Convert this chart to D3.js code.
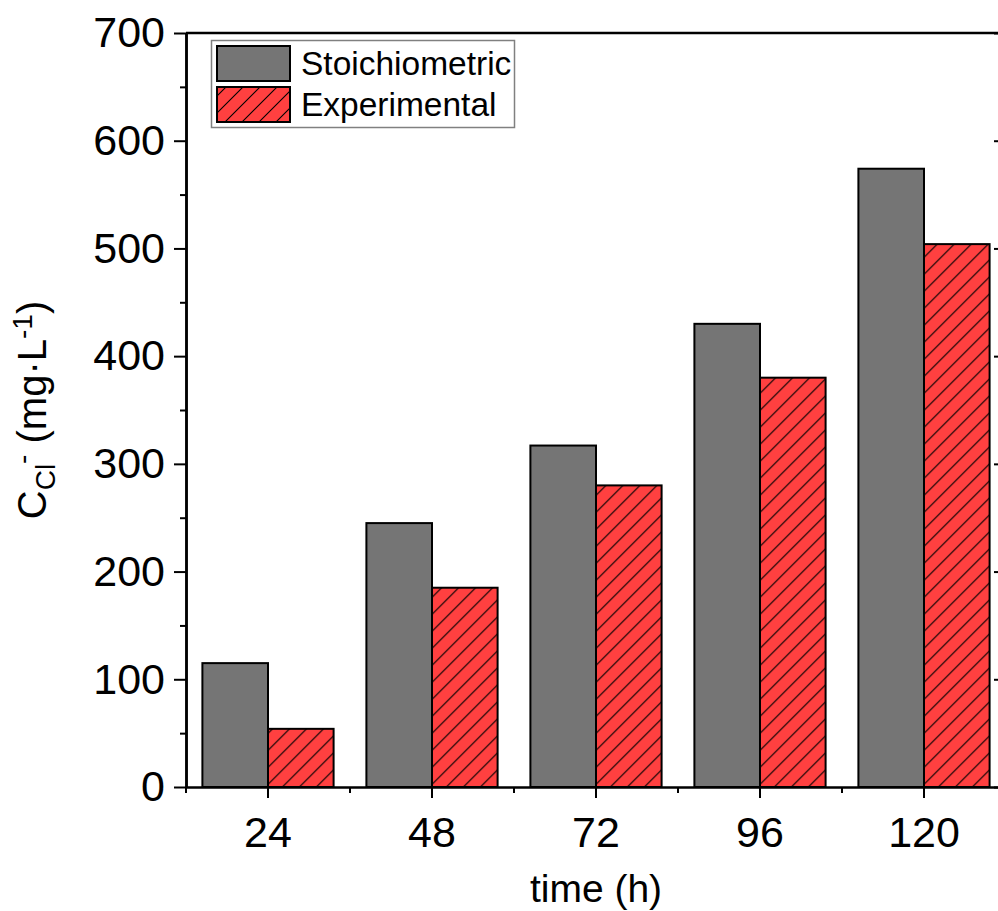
<!DOCTYPE html>
<html>
<head>
<meta charset="utf-8">
<script src="https://d3js.org/d3.v7.min.js"></script>
<style>
  body { margin: 0; background: #fff; }
  text { font-family: Arial, "Liberation Sans", sans-serif; fill: #000; }
</style>
</head>
<body>
<div id="chart"></div>
<script>
// data
const times = ["24", "48", "72", "96", "120"];
const stoichiometric = [115, 245, 317, 430, 574];
const experimental = [54, 185, 280, 380, 504];
const seriesNames = ["Stoichiometric", "Experimental"];
const yTicks = [0, 100, 200, 300, 400, 500, 600, 700];

const width = 998, height = 911;
const plotLeft = 186, plotRight = 1006, plotTop = 33, plotBottom = 787;

const grayFill = "#757575";
const redFill = "#ff4040";

const svg = d3.select("#chart").append("svg")
    .attr("width", width)
    .attr("height", height);

// hatch pattern for experimental bars
const defs = svg.append("defs");
const pat = defs.append("pattern")
    .attr("id", "hatch")
    .attr("patternUnits", "userSpaceOnUse")
    .attr("width", 17)
    .attr("height", 17);
pat.append("rect").attr("width", 17).attr("height", 17).attr("fill", redFill);
pat.append("path")
    .attr("d", "M0,17 L17,0 M-4,4 L4,-4 M13,21 L21,13")
    .attr("stroke", "#000")
    .attr("stroke-width", 1.1);

const x = d3.scaleBand()
    .domain(times)
    .range([plotLeft, plotRight])
    .paddingInner(0.2)
    .paddingOuter(0.1);

const xSub = d3.scaleBand()
    .domain(seriesNames)
    .range([0, x.bandwidth()]);

const y = d3.scaleLinear()
    .domain([0, 700])
    .range([plotBottom, plotTop]);

const rows = times.map((t, i) => ({t: t, values: [
    {name: seriesNames[0], v: stoichiometric[i]},
    {name: seriesNames[1], v: experimental[i]}
]}));

// bars
const groups = svg.append("g")
    .selectAll("g")
    .data(rows)
    .join("g")
    .attr("transform", d => `translate(${x(d.t)},0)`);

groups.selectAll("rect")
    .data(d => d.values)
    .join("rect")
    .attr("x", d => xSub(d.name))
    .attr("y", d => y(d.v))
    .attr("width", xSub.bandwidth())
    .attr("height", d => y(0) - y(d.v))
    .attr("fill", d => d.name === seriesNames[0] ? grayFill : "url(#hatch)")
    .attr("stroke", "#000")
    .attr("stroke-width", 2);

// y axis, major + minor
svg.append("g")
    .attr("transform", `translate(${plotLeft},0)`)
    .call(d3.axisLeft(y).tickValues(yTicks).tickSize(12).tickPadding(9).tickSizeOuter(0));
svg.append("g")
    .attr("transform", `translate(${plotLeft},0)`)
    .call(d3.axisLeft(y).tickValues(d3.range(50, 700, 100)).tickSize(6).tickFormat("").tickSizeOuter(0));

// right mirror axis, ticks inward, no labels
svg.append("g")
    .attr("transform", `translate(${plotRight},0)`)
    .call(d3.axisLeft(y).tickValues(yTicks).tickSize(12).tickFormat("").tickSizeOuter(0));

// x axis
svg.append("g")
    .attr("transform", `translate(0,${plotBottom})`)
    .call(d3.axisBottom(x).tickSize(11).tickPadding(18).tickSizeOuter(0));

// minor x ticks on category boundaries
const gap = x.step() - x.bandwidth();
const boundaries = times.map(t => x(t) - gap / 2).concat([plotRight]);
svg.append("g")
    .selectAll("line")
    .data(boundaries)
    .join("line")
    .attr("x1", d => d).attr("x2", d => d)
    .attr("y1", plotBottom).attr("y2", plotBottom + 6)
    .attr("stroke", "#000")
    .attr("stroke-width", 2);

svg.selectAll(".domain").attr("stroke", "#000").attr("stroke-width", 2.5);
svg.selectAll(".tick line").attr("stroke", "#000").attr("stroke-width", 2);
svg.selectAll(".tick text").attr("font-size", 43).attr("fill", "#000")
    .style("font-family", "Arial, 'Liberation Sans', sans-serif");

// top frame line
svg.append("line")
    .attr("x1", plotLeft).attr("x2", plotRight)
    .attr("y1", plotTop).attr("y2", plotTop)
    .attr("stroke", "#000")
    .attr("stroke-width", 2.5);

// axis titles
svg.append("text")
    .attr("x", x("72") + x.bandwidth() / 2)
    .attr("y", 902)
    .attr("text-anchor", "middle")
    .attr("font-size", 39)
    .text("time (h)");

const yt = svg.append("text")
    .attr("transform", "translate(46,410) rotate(-90)")
    .attr("text-anchor", "middle")
    .attr("font-size", 40);
yt.append("tspan").text("C");
yt.append("tspan").attr("font-size", 28).attr("dy", 9).text("Cl");
yt.append("tspan").attr("font-size", 28).attr("dy", -23).text("-");
yt.append("tspan").attr("dy", 14).text(" (mg·L");
yt.append("tspan").attr("font-size", 28).attr("dy", -14).text("-1");
yt.append("tspan").attr("dy", 14).text(")");

// legend
const legend = svg.append("g");
legend.append("rect")
    .attr("x", 211.5).attr("y", 40.5)
    .attr("width", 303).attr("height", 87)
    .attr("fill", "#fff")
    .attr("stroke", "#808080")
    .attr("stroke-width", 1.5);

const legendItems = legend.selectAll("g")
    .data(seriesNames)
    .join("g")
    .attr("transform", (d, i) => `translate(0,${i * 41})`);

legendItems.append("rect")
    .attr("x", 217).attr("y", 46)
    .attr("width", 73).attr("height", 35)
    .attr("fill", (d, i) => i === 0 ? grayFill : "url(#hatch)")
    .attr("stroke", "#000")
    .attr("stroke-width", 2);

legendItems.append("text")
    .attr("x", 301)
    .attr("y", 75)
    .attr("font-size", 33.5)
    .text(d => d);
</script>
</body>
</html>
